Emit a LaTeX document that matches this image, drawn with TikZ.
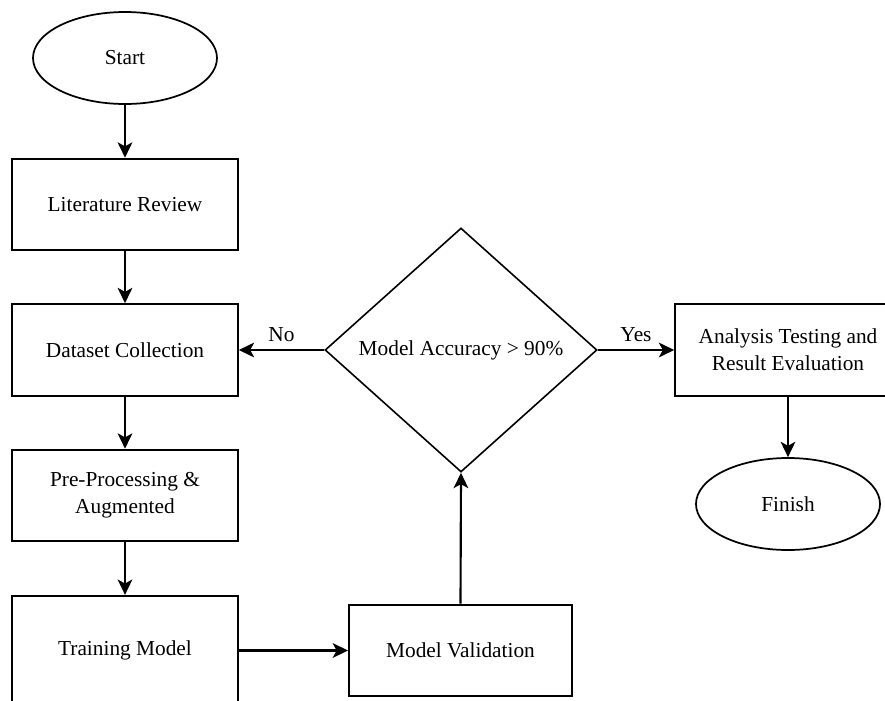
\documentclass[tikz,border=0pt]{standalone}
\usepackage{fontspec}
\setmainfont{Liberation Serif}
\usetikzlibrary{shapes.geometric,arrows.meta}
\begin{document}
\begin{tikzpicture}[x=0.75pt, y=-0.75pt,
        every node/.style={font=\fontsize{16}{20}\selectfont, align=center},
        procbox/.style={draw, rectangle, line width=1.7pt, minimum width=169pt, minimum height=68.5pt, inner sep=2pt},
        termnode/.style={draw, ellipse, line width=1.3pt, minimum width=138pt, minimum height=69pt},
        decision/.style={draw, diamond, line width=1.2pt, minimum width=204pt, minimum height=183pt, inner sep=0pt},
        flow/.style={line width=1.6pt, -{Stealth[length=11.5pt, width=11pt, inset=3pt]}}]
        \clip (0,0) rectangle (885,700);
        \useasboundingbox (0,0) rectangle (885,700);

        \node[termnode] (start) at (125,58) {Start};
        \node[procbox] (litreview) at (125,204.5) {Literature Review};
        \node[procbox] (dataset) at (125,350) {Dataset Collection};
        \node[procbox] (preproc) at (125,495.5) {Pre-Processing \&\\Augmented};
        \node[procbox, minimum height=81pt] (training) at (125,650) {Training Model};
        \node[procbox, minimum width=167pt] (validation) at (460.5,650.5) {Model Validation};
        \node[decision] (accuracy) at (461,350) {Model Accuracy > 90\%};
        \node[procbox] (analysis) at (788,350) {Analysis Testing and\\Result Evaluation};
        \node[termnode] (finish) at (788,504) {Finish};

        \draw[flow] (start) -- (litreview);
        \draw[flow] (litreview) -- (dataset);
        \draw[flow] (dataset) -- (preproc);
        \draw[flow] (preproc) -- (training);
        \draw[flow] (training.east |- validation.west) -- (validation.west);
        \draw[flow] (validation.north) -- (accuracy.south);
        \draw[flow] (accuracy.west) -- node[above=2pt] {No} (dataset.east);
        \draw[flow] (accuracy.east) -- node[above=2pt] {Yes} (analysis.west);
        \draw[flow] (analysis) -- (finish);
    \end{tikzpicture}
\end{document}
